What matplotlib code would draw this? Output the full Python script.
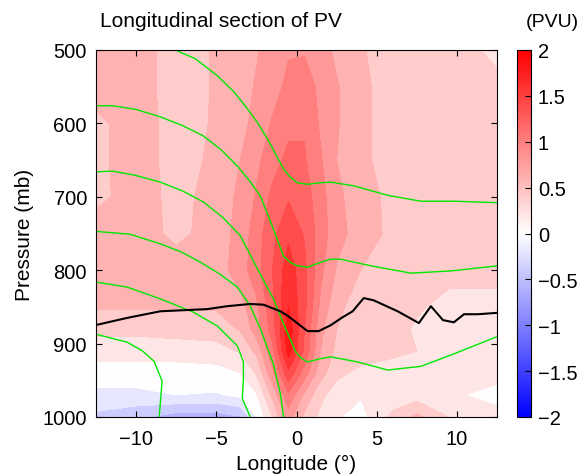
import numpy as np
import matplotlib
matplotlib.use("Agg")
import matplotlib.pyplot as plt
from matplotlib.colors import Normalize
from matplotlib.cm import ScalarMappable

plt.rcParams["font.family"] = ["Liberation Sans", "DejaVu Sans"]

# grid of the PV section (PVU), one row per pressure level
lon_nodes = [-12.5, -10, -7.5, -5, -3.5, -2.5, -1.5, -0.5, 0.5, 1.5, 2.5, 4, 6, 7.5, 9.5, 12.5]
p_nodes = [500, 550, 600, 650, 700, 750, 800, 850, 880, 910, 940, 970, 1000]
pv = np.array([
    [0.70, 0.70, 0.50, 0.62, 0.70, 0.78, 0.90, 0.98, 0.98, 0.90, 0.75, 0.62, 0.50, 0.50, 0.50, 0.35],
    [0.70, 0.70, 0.50, 0.62, 0.72, 0.82, 0.92, 1.05, 1.10, 0.95, 0.82, 0.65, 0.50, 0.50, 0.50, 0.45],
    [0.55, 0.70, 0.52, 0.62, 0.75, 0.85, 1.02, 1.15, 1.18, 0.97, 0.82, 0.65, 0.50, 0.50, 0.50, 0.50],
    [0.55, 0.70, 0.52, 0.64, 0.80, 0.95, 1.12, 1.25, 1.22, 1.02, 0.80, 0.65, 0.50, 0.50, 0.50, 0.50],
    [0.55, 0.68, 0.55, 0.66, 0.85, 1.02, 1.25, 1.38, 1.30, 1.08, 0.85, 0.68, 0.55, 0.50, 0.50, 0.50],
    [0.70, 0.70, 0.55, 0.68, 0.88, 1.10, 1.35, 1.55, 1.38, 1.10, 0.88, 0.70, 0.55, 0.50, 0.50, 0.50],
    [0.70, 0.70, 0.70, 0.70, 0.90, 1.12, 1.40, 1.72, 1.45, 1.05, 0.78, 0.60, 0.50, 0.45, 0.45, 0.45],
    [0.62, 0.62, 0.62, 0.62, 0.72, 0.95, 1.35, 1.80, 1.45, 0.95, 0.65, 0.50, 0.50, 0.42, 0.35, 0.35],
    [0.45, 0.45, 0.48, 0.50, 0.62, 0.90, 1.30, 1.92, 1.40, 0.85, 0.60, 0.50, 0.45, 0.38, 0.30, 0.30],
    [0.30, 0.30, 0.30, 0.32, 0.42, 0.65, 1.15, 1.90, 1.35, 0.80, 0.55, 0.50, 0.45, 0.40, 0.30, 0.30],
    [0.10, 0.10, 0.10, 0.12, 0.20, 0.42, 0.95, 1.55, 1.10, 0.68, 0.45, 0.35, 0.30, 0.30, 0.30, 0.30],
    [-0.05, -0.05, 0.00, -0.02, 0.05, 0.18, 0.65, 1.15, 0.75, 0.45, 0.30, 0.22, 0.28, 0.30, 0.25, 0.10],
    [-0.25, -0.35, -0.50, -0.50, -0.42, 0.00, 0.40, 0.90, 0.55, 0.35, 0.22, 0.12, 0.45, 0.65, 0.40, 0.30],
])

# isentropes (green) as (lon, p) points
theta_1 = [(-7.56, 500), (-6.3, 512), (-4.94, 535), (-3.9, 557), (-3.06, 580), (-2.4, 600),
           (-1.81, 621), (-1.3, 642), (-0.81, 662), (-0.4, 673), (0.06, 681), (0.69, 683),
           (1.4, 681), (2.13, 680), (3.56, 685), (5.69, 698), (7.75, 706), (9.81, 706), (12.56, 708)]
theta_2 = [(-12.56, 576), (-11.44, 576), (-10.0, 581), (-8.5, 591), (-7.1, 603), (-5.81, 617),
           (-4.7, 636), (-3.69, 658), (-2.9, 679), (-2.25, 699), (-1.44, 744), (-0.81, 781),
           (-0.35, 790), (0.06, 794), (0.69, 796), (1.4, 790), (2.13, 785), (2.75, 785),
           (4.63, 794), (7.13, 804), (9.63, 801), (12.56, 794)]
theta_3 = [(-12.56, 666), (-11.44, 665), (-10.0, 671), (-8.5, 680), (-7.1, 692), (-5.81, 707),
           (-4.6, 728), (-3.5, 753), (-2.44, 798), (-1.44, 839), (-0.81, 873), (-0.06, 911),
           (0.3, 920), (0.69, 925), (1.4, 921), (2.13, 918), (3.81, 925), (5.69, 936),
           (7.75, 931), (9.81, 914), (12.56, 890)]
theta_4 = [(-12.56, 747), (-10.38, 751), (-8.5, 764), (-7.2, 775), (-6, 789), (-4.8, 805),
           (-3.69, 823), (-2.9, 848), (-2.25, 880), (-1.44, 928), (-1.0, 969), (-0.81, 1000)]
theta_5 = [(-12.56, 816), (-10.56, 823), (-8.5, 839), (-6.44, 857), (-4.94, 876), (-3.69, 903),
           (-3.31, 925), (-3.31, 948), (-3.38, 975), (-2.88, 1000)]
theta_6 = [(-12.56, 887), (-10.56, 898), (-9.6, 910), (-8.88, 924), (-8.38, 951), (-8.56, 1000)]
isentropes = [theta_1, theta_2, theta_3, theta_4, theta_5, theta_6]

# boundary layer top (black)
blh_lon = [-12.56, -10.56, -8.5, -5.56, -4.31, -2.88, -2.06, -1.0, -0.56, 0.69, 1.38, 2.13,
           2.88, 3.5, 4.19, 4.81, 6.31, 7.63, 8.38, 9.13, 9.81, 10.44, 11.31, 12.56]
blh_p = [875, 865, 856, 853, 849, 846, 847, 856, 862, 883, 883, 875,
         864, 856, 838, 841, 856, 872, 849, 868, 871, 860, 860, 858]

x_ticks = [-10, -5, 0, 5, 10]
x_labels = ["\u221210", "\u22125", "0", "5", "10"]
y_ticks = [500, 600, 700, 800, 900, 1000]
cb_ticks = [-2, -1.5, -1, -0.5, 0, 0.5, 1, 1.5, 2]
cb_labels = ["\u22122", "\u22121.5", "\u22121", "\u22120.5", "0", "0.5", "1", "1.5", "2"]

levels = np.linspace(-2, 2, 21)
cmap = plt.cm.bwr
band_colors = cmap((levels[:-1] + 2) / 4)

fig = plt.figure(figsize=(5.79, 4.77), dpi=100)
ax = fig.add_axes([96 / 579, 1 - 418 / 477, 401 / 579, 367 / 477])
cax = fig.add_axes([517 / 579, 1 - 418 / 477, 14 / 579, 367 / 477])

X, Y = np.meshgrid(lon_nodes, p_nodes)
ax.contourf(X, Y, pv, levels=levels, colors=band_colors, antialiased=False)

for line in isentropes:
    lx, ly = zip(*line)
    ax.plot(lx, ly, color="#00e800", lw=1.0)
ax.plot(blh_lon, blh_p, color="black", lw=1.5)

ax.set_xlim(-12.5, 12.5)
ax.set_ylim(1000, 500)
ax.set_xticks(x_ticks)
ax.set_xticklabels(x_labels)
ax.set_yticks(y_ticks)
ax.tick_params(direction="in", top=True, right=True, length=4, width=0.8,
               labelsize=14.5)
ax.tick_params(axis="x", pad=9)
ax.tick_params(axis="y", pad=6.5)
ax.set_xlabel("Longitude (\u00b0)", fontsize=15, labelpad=4)
ax.set_ylabel("Pressure (mb)", fontsize=15, labelpad=6)
for s in ax.spines.values():
    s.set_linewidth(0.8)

sm = ScalarMappable(norm=Normalize(-2, 2), cmap=cmap)
cb = fig.colorbar(sm, cax=cax, ticks=cb_ticks)
cb.ax.set_yticklabels(cb_labels)
cb.ax.tick_params(direction="in", length=4, width=0.8, labelsize=14.5, pad=5)
cb.outline.set_linewidth(0.8)

fig.text(100 / 579, 1 - 27 / 477, "Longitudinal section of PV", fontsize=15, va="baseline")
fig.text(526 / 579, 1 - 27 / 477, "(PVU)", fontsize=14, va="baseline")

fig.savefig("out.png", dpi=100)
